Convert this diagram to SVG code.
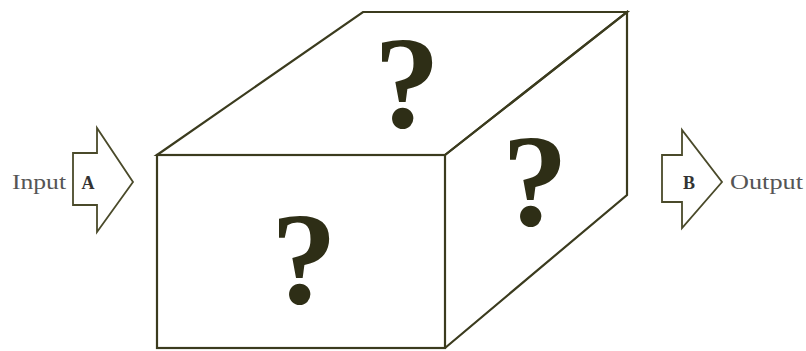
<svg xmlns="http://www.w3.org/2000/svg" width="806" height="351" viewBox="0 0 806 351">
<style>
.edge{fill:none;stroke:#3b3b1e;stroke-width:2.2;stroke-linejoin:miter}
.q{font-family:"Liberation Serif",serif;font-weight:bold;fill:#2e2e16;text-anchor:middle}
.lbl{font-family:"Liberation Serif",serif;font-size:21px;fill:#555;}
.let{font-family:"Liberation Serif",serif;font-weight:bold;font-size:18px;fill:#333;text-anchor:middle}
.arr{fill:#fff;stroke:#4a4a2a;stroke-width:1.8;stroke-linejoin:miter}
</style>
<rect width="806" height="351" fill="#fff"/>
<g id="box">
<polygon class="edge" points="157,155 363,12 627,12 445,155"/>
<rect class="edge" x="157" y="155" width="288" height="193"/>
<polyline class="edge" points="445,155 627,12 627,195 445,348"/>
<text class="q" x="407" y="127" font-size="132">?</text>
<text class="q" x="535" y="225" font-size="132">?</text>
<text class="q" x="304" y="303" font-size="132">?</text>
</g>
<g id="input">
<text class="lbl" x="12" y="189" textLength="54" lengthAdjust="spacingAndGlyphs">Input</text>
<polygon class="arr" points="73,153 97,153 97,128 133,182 97,232 97,205 73,205"/>
<text class="let" x="88" y="189">A</text>
</g>
<g id="output">
<polygon class="arr" points="662,155 682,155 682,130 722,182 682,228 682,202 662,202"/>
<text class="let" x="689" y="189">B</text>
<text class="lbl" x="730" y="189" textLength="73" lengthAdjust="spacingAndGlyphs">Output</text>
</g>
</svg>
